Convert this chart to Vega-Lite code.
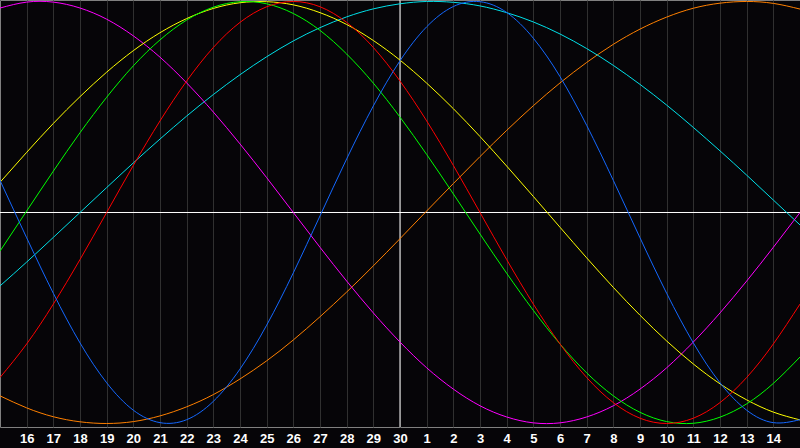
{
  "$schema": "https://vega.github.io/schema/vega-lite/v6.json",
  "width": 800,
  "height": 427,
  "autosize": {"type": "none"},
  "padding": {"left": 0, "top": 0, "right": 0, "bottom": 21},
  "background": "#060508",
  "config": {"view": {"stroke": "#808080", "strokeWidth": 1}},
  "datasets": {
    "curves": [
      {"s":"orange","d":0,"v":-0.869},{"s":"orange","d":1,"v":-0.926},{"s":"orange","d":2,"v":-0.968},{"s":"orange","d":3,"v":-0.992},{"s":"orange","d":4,"v":-1.0},{"s":"orange","d":5,"v":-0.991},{"s":"orange","d":6,"v":-0.964},{"s":"orange","d":7,"v":-0.921},{"s":"orange","d":8,"v":-0.863},{"s":"orange","d":9,"v":-0.789},{"s":"orange","d":10,"v":-0.703},{"s":"orange","d":11,"v":-0.604},{"s":"orange","d":12,"v":-0.494},{"s":"orange","d":13,"v":-0.377},{"s":"orange","d":14,"v":-0.253},{"s":"orange","d":15,"v":-0.124},{"s":"orange","d":16,"v":0.007},{"s":"orange","d":17,"v":0.137},{"s":"orange","d":18,"v":0.265},{"s":"orange","d":19,"v":0.389},{"s":"orange","d":20,"v":0.506},{"s":"orange","d":21,"v":0.614},{"s":"orange","d":22,"v":0.711},{"s":"orange","d":23,"v":0.797},{"s":"orange","d":24,"v":0.869},{"s":"orange","d":25,"v":0.926},{"s":"orange","d":26,"v":0.968},{"s":"orange","d":27,"v":0.992},{"s":"orange","d":28,"v":1.0},{"s":"orange","d":29,"v":0.991},{"s":"orange","d":30,"v":0.964},
      {"s":"cyan","d":0,"v":-0.348},{"s":"cyan","d":1,"v":-0.235},{"s":"cyan","d":2,"v":-0.118},{"s":"cyan","d":3,"v":0.0},{"s":"cyan","d":4,"v":0.118},{"s":"cyan","d":5,"v":0.235},{"s":"cyan","d":6,"v":0.348},{"s":"cyan","d":7,"v":0.457},{"s":"cyan","d":8,"v":0.559},{"s":"cyan","d":9,"v":0.653},{"s":"cyan","d":10,"v":0.738},{"s":"cyan","d":11,"v":0.813},{"s":"cyan","d":12,"v":0.876},{"s":"cyan","d":13,"v":0.927},{"s":"cyan","d":14,"v":0.965},{"s":"cyan","d":15,"v":0.989},{"s":"cyan","d":16,"v":1.0},{"s":"cyan","d":17,"v":0.996},{"s":"cyan","d":18,"v":0.979},{"s":"cyan","d":19,"v":0.947},{"s":"cyan","d":20,"v":0.903},{"s":"cyan","d":21,"v":0.846},{"s":"cyan","d":22,"v":0.777},{"s":"cyan","d":23,"v":0.697},{"s":"cyan","d":24,"v":0.607},{"s":"cyan","d":25,"v":0.509},{"s":"cyan","d":26,"v":0.403},{"s":"cyan","d":27,"v":0.292},{"s":"cyan","d":28,"v":0.177},{"s":"cyan","d":29,"v":0.059},{"s":"cyan","d":30,"v":-0.059},
      {"s":"magenta","d":0,"v":0.969},{"s":"magenta","d":1,"v":0.997},{"s":"magenta","d":2,"v":0.997},{"s":"magenta","d":3,"v":0.969},{"s":"magenta","d":4,"v":0.916},{"s":"magenta","d":5,"v":0.837},{"s":"magenta","d":6,"v":0.736},{"s":"magenta","d":7,"v":0.614},{"s":"magenta","d":8,"v":0.476},{"s":"magenta","d":9,"v":0.325},{"s":"magenta","d":10,"v":0.165},{"s":"magenta","d":11,"v":0.0},{"s":"magenta","d":12,"v":-0.165},{"s":"magenta","d":13,"v":-0.325},{"s":"magenta","d":14,"v":-0.476},{"s":"magenta","d":15,"v":-0.614},{"s":"magenta","d":16,"v":-0.736},{"s":"magenta","d":17,"v":-0.837},{"s":"magenta","d":18,"v":-0.916},{"s":"magenta","d":19,"v":-0.969},{"s":"magenta","d":20,"v":-0.997},{"s":"magenta","d":21,"v":-0.997},{"s":"magenta","d":22,"v":-0.969},{"s":"magenta","d":23,"v":-0.916},{"s":"magenta","d":24,"v":-0.837},{"s":"magenta","d":25,"v":-0.736},{"s":"magenta","d":26,"v":-0.614},{"s":"magenta","d":27,"v":-0.476},{"s":"magenta","d":28,"v":-0.325},{"s":"magenta","d":29,"v":-0.165},{"s":"magenta","d":30,"v":0.0},
      {"s":"yellow","d":0,"v":0.143},{"s":"yellow","d":1,"v":0.285},{"s":"yellow","d":2,"v":0.422},{"s":"yellow","d":3,"v":0.549},{"s":"yellow","d":4,"v":0.665},{"s":"yellow","d":5,"v":0.767},{"s":"yellow","d":6,"v":0.852},{"s":"yellow","d":7,"v":0.919},{"s":"yellow","d":8,"v":0.967},{"s":"yellow","d":9,"v":0.994},{"s":"yellow","d":10,"v":0.999},{"s":"yellow","d":11,"v":0.984},{"s":"yellow","d":12,"v":0.947},{"s":"yellow","d":13,"v":0.891},{"s":"yellow","d":14,"v":0.815},{"s":"yellow","d":15,"v":0.722},{"s":"yellow","d":16,"v":0.613},{"s":"yellow","d":17,"v":0.492},{"s":"yellow","d":18,"v":0.36},{"s":"yellow","d":19,"v":0.22},{"s":"yellow","d":20,"v":0.076},{"s":"yellow","d":21,"v":-0.07},{"s":"yellow","d":22,"v":-0.215},{"s":"yellow","d":23,"v":-0.355},{"s":"yellow","d":24,"v":-0.487},{"s":"yellow","d":25,"v":-0.609},{"s":"yellow","d":26,"v":-0.718},{"s":"yellow","d":27,"v":-0.812},{"s":"yellow","d":28,"v":-0.888},{"s":"yellow","d":29,"v":-0.946},{"s":"yellow","d":30,"v":-0.983},
      {"s":"green","d":0,"v":-0.183},{"s":"green","d":1,"v":0.007},{"s":"green","d":2,"v":0.196},{"s":"green","d":3,"v":0.378},{"s":"green","d":4,"v":0.546},{"s":"green","d":5,"v":0.695},{"s":"green","d":6,"v":0.818},{"s":"green","d":7,"v":0.912},{"s":"green","d":8,"v":0.973},{"s":"green","d":9,"v":0.999},{"s":"green","d":10,"v":0.989},{"s":"green","d":11,"v":0.943},{"s":"green","d":12,"v":0.863},{"s":"green","d":13,"v":0.751},{"s":"green","d":14,"v":0.613},{"s":"green","d":15,"v":0.452},{"s":"green","d":16,"v":0.275},{"s":"green","d":17,"v":0.088},{"s":"green","d":18,"v":-0.102},{"s":"green","d":19,"v":-0.288},{"s":"green","d":20,"v":-0.464},{"s":"green","d":21,"v":-0.623},{"s":"green","d":22,"v":-0.76},{"s":"green","d":23,"v":-0.869},{"s":"green","d":24,"v":-0.947},{"s":"green","d":25,"v":-0.991},{"s":"green","d":26,"v":-0.999},{"s":"green","d":27,"v":-0.97},{"s":"green","d":28,"v":-0.907},{"s":"green","d":29,"v":-0.81},{"s":"green","d":30,"v":-0.685},
      {"s":"red","d":0,"v":-0.782},{"s":"red","d":1,"v":-0.623},{"s":"red","d":2,"v":-0.434},{"s":"red","d":3,"v":-0.223},{"s":"red","d":4,"v":0.0},{"s":"red","d":5,"v":0.223},{"s":"red","d":6,"v":0.434},{"s":"red","d":7,"v":0.623},{"s":"red","d":8,"v":0.782},{"s":"red","d":9,"v":0.901},{"s":"red","d":10,"v":0.975},{"s":"red","d":11,"v":1.0},{"s":"red","d":12,"v":0.975},{"s":"red","d":13,"v":0.901},{"s":"red","d":14,"v":0.782},{"s":"red","d":15,"v":0.623},{"s":"red","d":16,"v":0.434},{"s":"red","d":17,"v":0.223},{"s":"red","d":18,"v":0.0},{"s":"red","d":19,"v":-0.223},{"s":"red","d":20,"v":-0.434},{"s":"red","d":21,"v":-0.623},{"s":"red","d":22,"v":-0.782},{"s":"red","d":23,"v":-0.901},{"s":"red","d":24,"v":-0.975},{"s":"red","d":25,"v":-1.0},{"s":"red","d":26,"v":-0.975},{"s":"red","d":27,"v":-0.901},{"s":"red","d":28,"v":-0.782},{"s":"red","d":29,"v":-0.623},{"s":"red","d":30,"v":-0.434},
      {"s":"blue","d":0,"v":0.152},{"s":"blue","d":1,"v":-0.12},{"s":"blue","d":2,"v":-0.383},{"s":"blue","d":3,"v":-0.618},{"s":"blue","d":4,"v":-0.807},{"s":"blue","d":5,"v":-0.937},{"s":"blue","d":6,"v":-0.996},{"s":"blue","d":7,"v":-0.982},{"s":"blue","d":8,"v":-0.895},{"s":"blue","d":9,"v":-0.742},{"s":"blue","d":10,"v":-0.534},{"s":"blue","d":11,"v":-0.286},{"s":"blue","d":12,"v":-0.016},{"s":"blue","d":13,"v":0.254},{"s":"blue","d":14,"v":0.505},{"s":"blue","d":15,"v":0.719},{"s":"blue","d":16,"v":0.88},{"s":"blue","d":17,"v":0.976},{"s":"blue","d":18,"v":0.999},{"s":"blue","d":19,"v":0.948},{"s":"blue","d":20,"v":0.826},{"s":"blue","d":21,"v":0.644},{"s":"blue","d":22,"v":0.413},{"s":"blue","d":23,"v":0.152},{"s":"blue","d":24,"v":-0.12},{"s":"blue","d":25,"v":-0.383},{"s":"blue","d":26,"v":-0.618},{"s":"blue","d":27,"v":-0.807},{"s":"blue","d":28,"v":-0.937},{"s":"blue","d":29,"v":-0.996},{"s":"blue","d":30,"v":-0.982}
    ]
  },
  "encoding": {
    "x": {
      "field": "d",
      "type": "quantitative",
      "scale": {"domain": [0, 30], "nice": false, "zero": false},
      "axis": {
        "title": null,
        "values": [1,2,3,4,5,6,7,8,9,10,11,12,13,14,15,16,17,18,19,20,21,22,23,24,25,26,27,28,29],
        "labelExpr": "datum.value <= 15 ? '' + (datum.value + 15) : '' + (datum.value - 15)",
        "grid": true,
        "gridColor": "#303030",
        "gridWidth": 1,
        "ticks": false,
        "domain": false,
        "labelColor": "#ffffff",
        "labelFont": "Liberation Sans",
        "labelFontWeight": "bold",
        "labelFontSize": 13,
        "labelPadding": 5,
        "labelFlush": false,
        "labelOverlap": false
      }
    },
    "y": {
      "field": "v",
      "type": "quantitative",
      "scale": {"domain": [-1.0166, 1.007], "nice": false, "zero": false},
      "axis": null
    }
  },
  "layer": [
    {
      "data": {"values": [{"d": 15, "v": -1.0166}, {"d": 15, "v": 1.007}]},
      "mark": {"type": "line", "color": "#ffffff", "strokeWidth": 1}
    },
    {
      "data": {"values": [{"d": 0, "v": 0}, {"d": 30, "v": 0}]},
      "mark": {"type": "line", "color": "#ffffff", "strokeWidth": 1}
    },
    {
      "data": {"name": "curves"},
      "mark": {"type": "line", "strokeWidth": 1, "interpolate": "natural", "clip": true},
      "encoding": {
        "color": {
          "field": "s",
          "type": "nominal",
          "scale": {
            "domain": ["orange", "cyan", "magenta", "yellow", "green", "red", "blue"],
            "range": ["#ff8000", "#00e0e8", "#ff00ff", "#ffff00", "#00ff00", "#ff0000", "#1468ff"]
          },
          "legend": null
        },
        "order": {"field": "d", "type": "quantitative"}
      }
    }
  ]
}
